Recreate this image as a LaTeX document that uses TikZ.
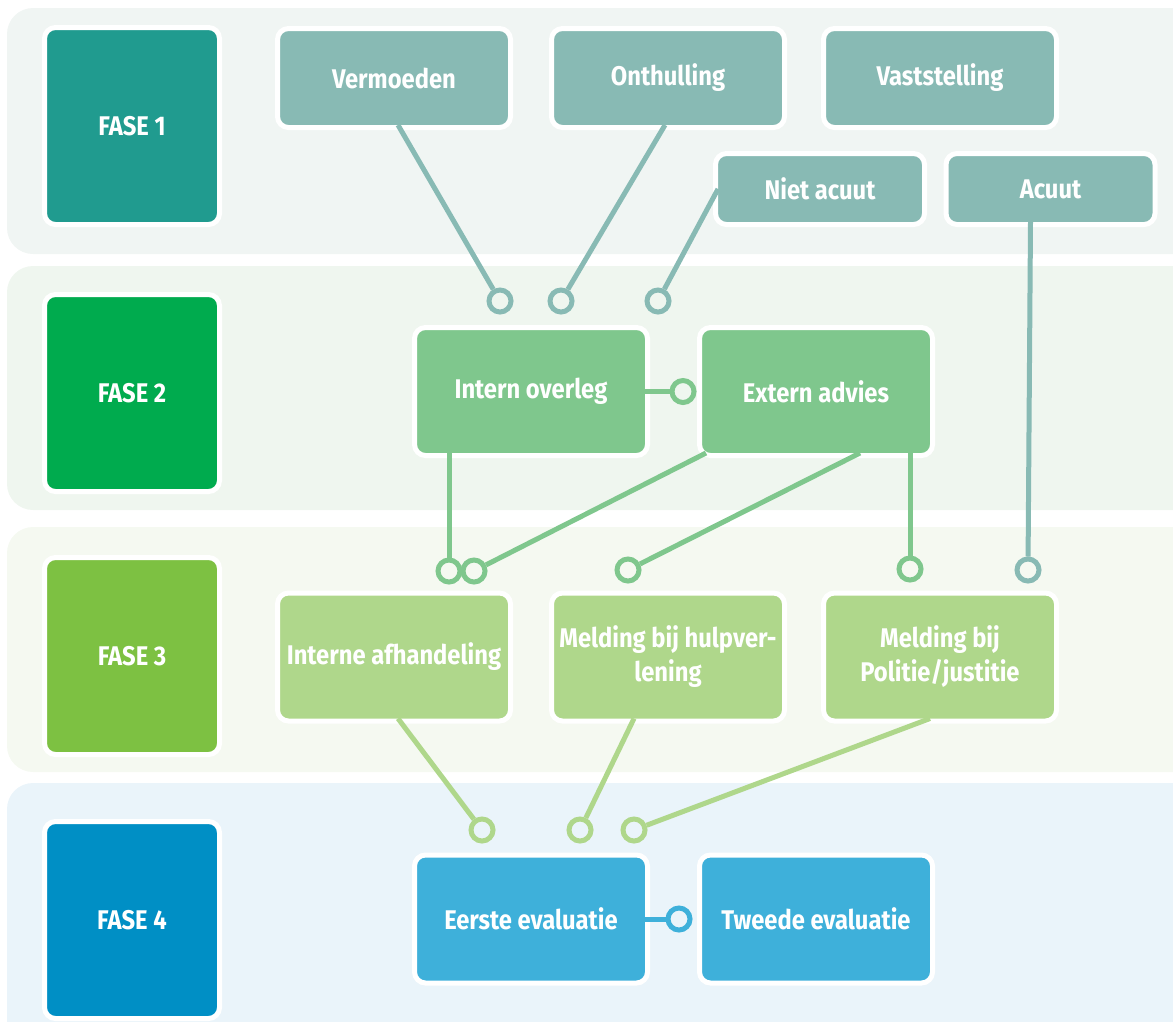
\documentclass[tikz,border=0pt]{standalone}
\usepackage{fontspec}
\setmainfont{Fira Sans}[FakeStretch=0.88]
\usetikzlibrary{calc}
\definecolor{bandA}{HTML}{F0F5F3}
\definecolor{bandB}{HTML}{EFF6EF}
\definecolor{bandC}{HTML}{F5F9F1}
\definecolor{bandD}{HTML}{EAF4FA}
\definecolor{faseA}{HTML}{209B8F}
\definecolor{faseB}{HTML}{00AB4E}
\definecolor{faseC}{HTML}{7DC142}
\definecolor{faseD}{HTML}{008FC5}
\definecolor{boxA}{HTML}{88BAB4}
\definecolor{boxB}{HTML}{7FC78D}
\definecolor{boxC}{HTML}{AFD78B}
\definecolor{boxD}{HTML}{3EB0DA}
\tikzset{
  band/.style={rounded corners=26pt},
  basebox/.style={draw=white, line width=5pt, rounded corners=11pt, inner sep=0pt, outer sep=0pt,
    text=white, align=center, font=\bfseries\fontsize{27}{34}\selectfont},
  fasebox/.style={basebox, minimum width=175pt, minimum height=197pt},
  widebox/.style={basebox, minimum width=233pt, minimum height=128pt},
  topbox/.style={basebox, minimum width=233pt, minimum height=99pt},
  smallbox/.style={basebox, minimum width=209pt, minimum height=71pt},
  ring/.style={circle, draw=#1, line width=5pt, minimum size=22pt, inner sep=0pt},
  link/.style={draw=#1, line width=5pt},
}
\begin{document}
\begin{tikzpicture}[x=1pt,y=-1pt]
\useasboundingbox (0,0) rectangle (1173,1021);
\clip (0,0) rectangle (1173,1021);
% bands
\fill[bandA, band] (7,8) rectangle (1210,254);
\fill[bandB, band] (7,266) rectangle (1210,510);
\fill[bandC, band] (7,527) rectangle (1210,772);
\fill[bandD, band] (7,783) rectangle (1210,1060);
% phase boxes
\node[fasebox, fill=faseA] (f1) at (132,126) {FASE 1};
\node[fasebox, fill=faseB] (f2) at (132,393) {FASE 2};
\node[fasebox, fill=faseC] (f3) at (132,656) {FASE 3};
\node[fasebox, fill=faseD] (f4) at (132,920) {FASE 4};
% phase 1
\node[topbox, fill=boxA] (verm) at (394,78) {Vermoeden};
\node[topbox, fill=boxA] (onth) at (668,78) {Onthulling};
\node[topbox, fill=boxA] (vast) at (940,78) {Vaststelling};
\node[smallbox, fill=boxA] (niet) at (820,189) {Niet acuut};
\node[smallbox, fill=boxA] (acuut) at (1050.5,189) {Acuut};
% phase 2
\node[widebox, fill=boxB] (intern) at (531,391.5) {Intern overleg};
\node[widebox, fill=boxB] (extern) at (816,391.5) {Extern advies};
% phase 3
\node[widebox, fill=boxC] (afh) at (394,657) {Interne afhandeling};
\node[widebox, fill=boxC] (hulp) at (668,657) {Melding bij hulpver-\\lening};
\node[widebox, fill=boxC] (pol) at (940,657) {Melding bij\\Politie/justitie};
% phase 4
\node[widebox, fill=boxD] (eerste) at (531,919) {Eerste evaluatie};
\node[widebox, fill=boxD] (tweede) at (816,919) {Tweede evaluatie};
% rings
\node[ring=boxA] (r1) at (500,301) {};
\node[ring=boxA] (r2) at (561,301) {};
\node[ring=boxA] (r3) at (658,301) {};
\node[ring=boxB] (r4) at (683,391.5) {};
\node[ring=boxB] (r5) at (449,571) {};
\node[ring=boxB] (r6) at (474,571) {};
\node[ring=boxB] (r7) at (628,570) {};
\node[ring=boxB] (r8) at (910,569) {};
\node[ring=boxA] (r9) at (1028,570) {};
\node[ring=boxC] (r10) at (482,830) {};
\node[ring=boxC] (r11) at (580,830) {};
\node[ring=boxC] (r12) at (634,830) {};
\node[ring=boxD] (r13) at (679,919) {};
% links
\coordinate (vermS) at ([xshift=4pt,yshift=2.5pt]verm.south);
\coordinate (onthS) at ([xshift=-3pt,yshift=2.5pt]onth.south);
\coordinate (nietW) at ([xshift=2.5pt]niet.west);
\coordinate (acuutS) at ([xshift=-20pt,yshift=2.5pt]acuut.south);
\coordinate (internE) at ([xshift=-2.5pt]intern.east);
\coordinate (internS) at ([xshift=-82pt,yshift=2.5pt]intern.south);
\coordinate (externA) at ([xshift=-110pt,yshift=2.5pt]extern.south);
\coordinate (externB) at ([xshift=44pt,yshift=2.5pt]extern.south);
\coordinate (externC) at ([xshift=94pt,yshift=2.5pt]extern.south);
\coordinate (afhS) at ([xshift=4pt,yshift=2.5pt]afh.south);
\coordinate (hulpS) at ([xshift=-34pt,yshift=2.5pt]hulp.south);
\coordinate (polS) at ([xshift=-10pt,yshift=2.5pt]pol.south);
\coordinate (eersteE) at ([xshift=-2.5pt]eerste.east);
\draw[link=boxA] (vermS) -- (r1);
\draw[link=boxA] (onthS) -- (r2);
\draw[link=boxA] (nietW) -- (r3);
\draw[link=boxA] (acuutS) -- (r9);
\draw[link=boxB] (internE) -- (r4);
\draw[link=boxB] (internS) -- (r5);
\draw[link=boxB] (externA) -- (r6);
\draw[link=boxB] (externB) -- (r7);
\draw[link=boxB] (externC) -- (r8);
\draw[link=boxC] (afhS) -- (r10);
\draw[link=boxC] (hulpS) -- (r11);
\draw[link=boxC] (polS) -- (r12);
\draw[link=boxD] (eersteE) -- (r13);
\end{tikzpicture}
\end{document}
